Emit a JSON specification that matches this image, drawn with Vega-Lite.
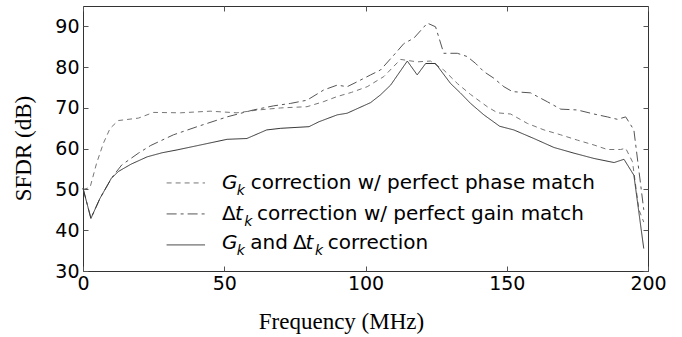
{
  "$schema": "https://vega.github.io/schema/vega-lite/v6.json",
  "width": 565,
  "height": 265,
  "autosize": {"type": "none"},
  "padding": {"left": 83, "top": 6, "right": 34, "bottom": 66},
  "background": "white",
  "config": {
    "view": {"stroke": "#333", "strokeWidth": 1},
    "axis": {"grid": false, "domain": false, "tickColor": "#555", "tickWidth": 1}
  },
  "datasets": {
    "curves": [
      {"f":0,"v":50,"s":"Gk"},{"f":2.5,"v":50.5,"s":"Gk"},{"f":4.8,"v":56.4,"s":"Gk"},{"f":7.2,"v":61.3,"s":"Gk"},{"f":9.6,"v":65,"s":"Gk"},{"f":12.5,"v":66.9,"s":"Gk"},{"f":19.6,"v":67.5,"s":"Gk"},{"f":25,"v":68.9,"s":"Gk"},{"f":34.5,"v":68.8,"s":"Gk"},{"f":45,"v":69.2,"s":"Gk"},{"f":54.5,"v":68.8,"s":"Gk"},{"f":62,"v":69.5,"s":"Gk"},{"f":70,"v":70,"s":"Gk"},{"f":79.3,"v":70.3,"s":"Gk"},{"f":85,"v":71.5,"s":"Gk"},{"f":90,"v":72.8,"s":"Gk"},{"f":95,"v":73.8,"s":"Gk"},{"f":100.6,"v":75.2,"s":"Gk"},{"f":106.5,"v":77.7,"s":"Gk"},{"f":112.4,"v":81.9,"s":"Gk"},{"f":118.3,"v":81.3,"s":"Gk"},{"f":123,"v":81.5,"s":"Gk"},{"f":127.7,"v":79.3,"s":"Gk"},{"f":132.5,"v":76,"s":"Gk"},{"f":137.2,"v":73.3,"s":"Gk"},{"f":143.1,"v":70.3,"s":"Gk"},{"f":146.7,"v":68.8,"s":"Gk"},{"f":151.4,"v":68.5,"s":"Gk"},{"f":157.3,"v":66.2,"s":"Gk"},{"f":163.2,"v":64.6,"s":"Gk"},{"f":169.1,"v":63.4,"s":"Gk"},{"f":175,"v":62.1,"s":"Gk"},{"f":180.9,"v":60.9,"s":"Gk"},{"f":185.6,"v":59.8,"s":"Gk"},{"f":190.3,"v":59.8,"s":"Gk"},{"f":192.1,"v":60.1,"s":"Gk"},{"f":194.5,"v":56.8,"s":"Gk"},{"f":196.8,"v":45,"s":"Gk"},{"f":198.5,"v":42,"s":"Gk"},
      {"f":0,"v":50.3,"s":"dt"},{"f":2.8,"v":42.9,"s":"dt"},{"f":6,"v":47.8,"s":"dt"},{"f":10.3,"v":53,"s":"dt"},{"f":13.7,"v":56,"s":"dt"},{"f":19.6,"v":58.9,"s":"dt"},{"f":24,"v":60.8,"s":"dt"},{"f":32,"v":63.4,"s":"dt"},{"f":40.4,"v":65.4,"s":"dt"},{"f":51,"v":67.8,"s":"dt"},{"f":60.3,"v":69.5,"s":"dt"},{"f":67.4,"v":70.5,"s":"dt"},{"f":73.4,"v":71.1,"s":"dt"},{"f":79.3,"v":71.9,"s":"dt"},{"f":85.2,"v":74.4,"s":"dt"},{"f":90,"v":75.6,"s":"dt"},{"f":93.5,"v":75.2,"s":"dt"},{"f":97,"v":76.4,"s":"dt"},{"f":101.8,"v":78.1,"s":"dt"},{"f":105.3,"v":79.3,"s":"dt"},{"f":110.6,"v":83.4,"s":"dt"},{"f":113.6,"v":85.8,"s":"dt"},{"f":117.1,"v":87.1,"s":"dt"},{"f":121.9,"v":90.8,"s":"dt"},{"f":124.8,"v":89.9,"s":"dt"},{"f":127.7,"v":83.4,"s":"dt"},{"f":132.5,"v":83.4,"s":"dt"},{"f":136,"v":82.6,"s":"dt"},{"f":139,"v":80.9,"s":"dt"},{"f":141.9,"v":78.9,"s":"dt"},{"f":145.4,"v":77.3,"s":"dt"},{"f":149,"v":75.2,"s":"dt"},{"f":152,"v":74,"s":"dt"},{"f":158.4,"v":73.7,"s":"dt"},{"f":164.4,"v":71.5,"s":"dt"},{"f":169.1,"v":69.7,"s":"dt"},{"f":175,"v":69.5,"s":"dt"},{"f":180.9,"v":68.5,"s":"dt"},{"f":185.6,"v":67.8,"s":"dt"},{"f":189.2,"v":67.2,"s":"dt"},{"f":192.1,"v":67.8,"s":"dt"},{"f":195,"v":64.6,"s":"dt"},{"f":198.5,"v":45,"s":"dt"},
      {"f":0,"v":50.3,"s":"both"},{"f":2.8,"v":42.9,"s":"both"},{"f":6,"v":47.8,"s":"both"},{"f":10,"v":52.7,"s":"both"},{"f":12.5,"v":54.4,"s":"both"},{"f":17,"v":56.2,"s":"both"},{"f":22.7,"v":58,"s":"both"},{"f":28,"v":59,"s":"both"},{"f":33.3,"v":59.7,"s":"both"},{"f":41.5,"v":60.9,"s":"both"},{"f":51,"v":62.3,"s":"both"},{"f":58,"v":62.5,"s":"both"},{"f":65,"v":64.6,"s":"both"},{"f":70,"v":65,"s":"both"},{"f":80,"v":65.4,"s":"both"},{"f":83.5,"v":66.6,"s":"both"},{"f":90,"v":68.3,"s":"both"},{"f":93.5,"v":68.7,"s":"both"},{"f":101.8,"v":71.3,"s":"both"},{"f":105.3,"v":73.2,"s":"both"},{"f":108.9,"v":75.6,"s":"both"},{"f":114.8,"v":81.5,"s":"both"},{"f":118.3,"v":78.1,"s":"both"},{"f":121.3,"v":80.9,"s":"both"},{"f":124.8,"v":80.9,"s":"both"},{"f":130.1,"v":76,"s":"both"},{"f":133.7,"v":73.6,"s":"both"},{"f":137.2,"v":71.1,"s":"both"},{"f":141.9,"v":68.3,"s":"both"},{"f":147.5,"v":65.5,"s":"both"},{"f":152.5,"v":64.6,"s":"both"},{"f":159.6,"v":62.5,"s":"both"},{"f":166.7,"v":60.3,"s":"both"},{"f":173.8,"v":58.9,"s":"both"},{"f":180.9,"v":57.6,"s":"both"},{"f":188,"v":56.6,"s":"both"},{"f":191.5,"v":57.4,"s":"both"},{"f":195,"v":53.5,"s":"both"},{"f":198.5,"v":35.5,"s":"both"}
    ],
    "leg": [
      {"s":"Gk","x1":29.6,"x2":43.2,"y":51.6},
      {"s":"dt","x1":29.6,"x2":43.2,"y":44.0},
      {"s":"both","x1":29.6,"x2":43.2,"y":36.4}
    ],
    "lt": [
      {"t":"G","kind":"i","x":49.2,"y":50.1},
      {"t":"k","kind":"s","x":54.4,"y":50.1},
      {"t":"correction w/ perfect phase match","kind":"n","x":59.4,"y":50.1},
      {"t":"Δ","kind":"n","x":49.2,"y":42.5},
      {"t":"t","kind":"i","x":53.8,"y":42.5},
      {"t":"k","kind":"s","x":57.1,"y":42.5},
      {"t":"correction w/ perfect gain match","kind":"n","x":61.6,"y":42.5},
      {"t":"G","kind":"i","x":49.2,"y":35.4},
      {"t":"k","kind":"s","x":54.4,"y":35.4},
      {"t":"and","kind":"n","x":59.2,"y":35.4},
      {"t":"Δ","kind":"n","x":74.3,"y":35.4},
      {"t":"t","kind":"i","x":78.8,"y":35.4},
      {"t":"k","kind":"s","x":82.1,"y":35.4},
      {"t":"correction","kind":"n","x":86.6,"y":35.4}
    ]
  },
  "resolve": {"axis": {"x": "independent", "y": "independent"}},
  "layer": [
    {
      "data": {"name": "curves"},
      "mark": {"type": "line", "strokeWidth": 1},
      "encoding": {
        "x": {"field": "f", "type": "quantitative", "scale": {"domain": [0, 200], "nice": false, "zero": false},
          "axis": {"orient": "bottom", "values": [0, 50, 100, 150, 200], "tickSize": -5, "labelPadding": 8, "labelFlush": false,
            "labelFont": "DejaVu Sans", "labelFontSize": 19, "labelColor": "#000",
            "title": "Frequency (MHz)", "titleFont": "Liberation Serif", "titleFontSize": 23, "titleFontWeight": "normal", "titleColor": "#000",
            "titleX": 258, "titleY": 57, "titleAlign": "center", "titleBaseline": "alphabetic"}},
        "y": {"field": "v", "type": "quantitative", "scale": {"domain": [30, 95], "nice": false, "zero": false},
          "axis": {"orient": "left", "values": [30, 40, 50, 60, 70, 80, 90], "tickSize": -5, "labelPadding": 9, "labelFlush": false,
            "labelFont": "DejaVu Sans", "labelFontSize": 19, "labelColor": "#000",
            "title": "SFDR (dB)", "titleFont": "Liberation Serif", "titleFontSize": 23, "titleFontWeight": "normal", "titleColor": "#000",
            "titleX": -53, "titleY": 142, "titleAngle": 270, "titleAlign": "center", "titleBaseline": "alphabetic"}},
        "detail": {"field": "s"},
        "strokeDash": {"field": "s", "type": "nominal", "scale": {"domain": ["Gk", "dt", "both"], "range": [[5, 4], [10, 4, 3, 4], [1, 0]]}, "legend": null},
        "color": {"field": "s", "type": "nominal", "scale": {"domain": ["Gk", "dt", "both"], "range": ["#777", "#555", "#333"]}, "legend": null}
      }
    },
    {
      "data": {"name": "leg"},
      "mark": {"type": "rule", "strokeWidth": 1},
      "encoding": {
        "x": {"field": "x1", "type": "quantitative", "scale": {"domain": [0, 200], "nice": false, "zero": false},
          "axis": {"orient": "top", "values": [0, 50, 100, 150, 200], "tickSize": -5, "labels": false, "title": null}},
        "x2": {"field": "x2"},
        "y": {"field": "y", "type": "quantitative", "scale": {"domain": [30, 95], "nice": false, "zero": false},
          "axis": {"orient": "right", "values": [30, 40, 50, 60, 70, 80, 90], "tickSize": -5, "labels": false, "title": null}},
        "strokeDash": {"field": "s", "type": "nominal", "scale": {"domain": ["Gk", "dt", "both"], "range": [[5, 4], [10, 4, 3, 4], [1, 0]]}, "legend": null},
        "color": {"field": "s", "type": "nominal", "scale": {"domain": ["Gk", "dt", "both"], "range": ["#777", "#555", "#333"]}, "legend": null}
      }
    },
    {
      "data": {"name": "lt"},
      "transform": [{"filter": "datum.kind === 'n'"}],
      "mark": {"type": "text", "align": "left", "baseline": "alphabetic", "font": "DejaVu Sans", "fontSize": 20, "color": "#000"},
      "encoding": {
        "x": {"field": "x", "type": "quantitative", "axis": null},
        "y": {"field": "y", "type": "quantitative", "axis": null},
        "text": {"field": "t"}
      }
    },
    {
      "data": {"name": "lt"},
      "transform": [{"filter": "datum.kind === 'i'"}],
      "mark": {"type": "text", "align": "left", "baseline": "alphabetic", "font": "DejaVu Sans", "fontSize": 20, "fontStyle": "italic", "color": "#000"},
      "encoding": {
        "x": {"field": "x", "type": "quantitative", "axis": null},
        "y": {"field": "y", "type": "quantitative", "axis": null},
        "text": {"field": "t"}
      }
    },
    {
      "data": {"name": "lt"},
      "transform": [{"filter": "datum.kind === 's'"}],
      "mark": {"type": "text", "align": "left", "baseline": "alphabetic", "font": "DejaVu Sans", "fontSize": 14, "fontStyle": "italic", "dy": 6, "color": "#000"},
      "encoding": {
        "x": {"field": "x", "type": "quantitative", "axis": null},
        "y": {"field": "y", "type": "quantitative", "axis": null},
        "text": {"field": "t"}
      }
    }
  ]
}
